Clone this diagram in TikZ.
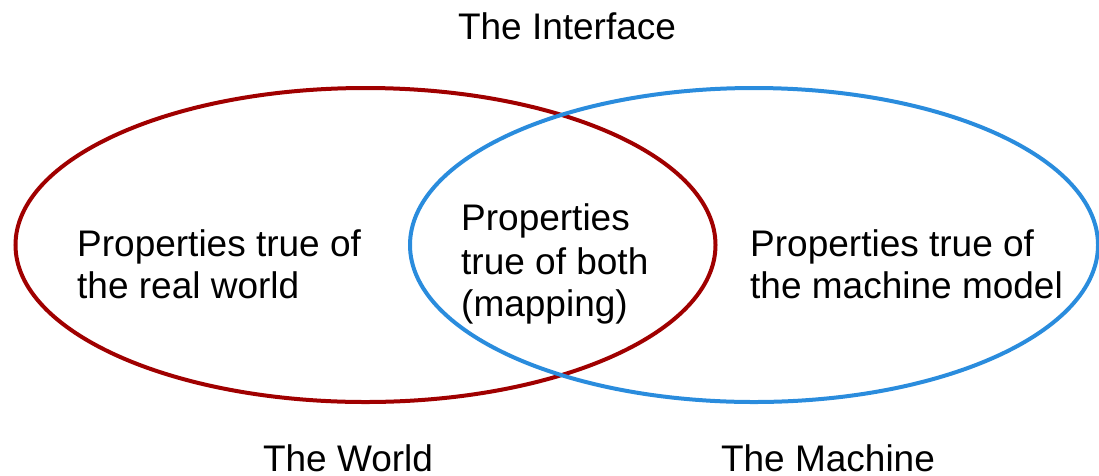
\documentclass[tikz,border=0pt]{standalone}
\usepackage{fontspec}
\setmainfont{Liberation Sans}
\usetikzlibrary{shapes.geometric}
\definecolor{worldred}{RGB}{160,0,0}
\definecolor{machineblue}{RGB}{42,140,221}
\tikzset{
  venn/.style={ellipse, draw, line width=4pt, minimum width=#1, minimum height=314pt, inner sep=0pt, outer sep=0pt},
  lbl/.style={inner sep=0pt, anchor=base west, font=\fontsize{37}{44}\selectfont},
  title/.style={inner sep=0pt, anchor=base, font=\fontsize{37}{44}\selectfont}
}
\begin{document}
\begin{tikzpicture}[x=1pt,y=-1pt]
\useasboundingbox (0,0) rectangle (1099,475);
\begin{scope}
\clip (0,0) rectangle (1099,475);
\node[venn=700pt, draw=worldred] (world) at (365.5,245) {};
\node[venn=688pt, draw=machineblue] (machine) at (754,245) {};
\end{scope}
\node[title] (interface) at (567,39) {The Interface};
\node[title] (worldlabel) at (348,471) {The World};
\node[title] (machinelabel) at (828,471) {The Machine};
\node[lbl] (w1) at (77,256) {Properties true of};
\node[lbl] (w2) at (77,298) {the real world};
\node[lbl] (b1) at (461,230) {Properties};
\node[lbl] (b2) at (461,274) {true of both};
\node[lbl] (b3) at (461,316) {(mapping)};
\node[lbl] (m1) at (750,256) {Properties true of};
\node[lbl] (m2) at (750,298) {the machine model};
\end{tikzpicture}
\end{document}
